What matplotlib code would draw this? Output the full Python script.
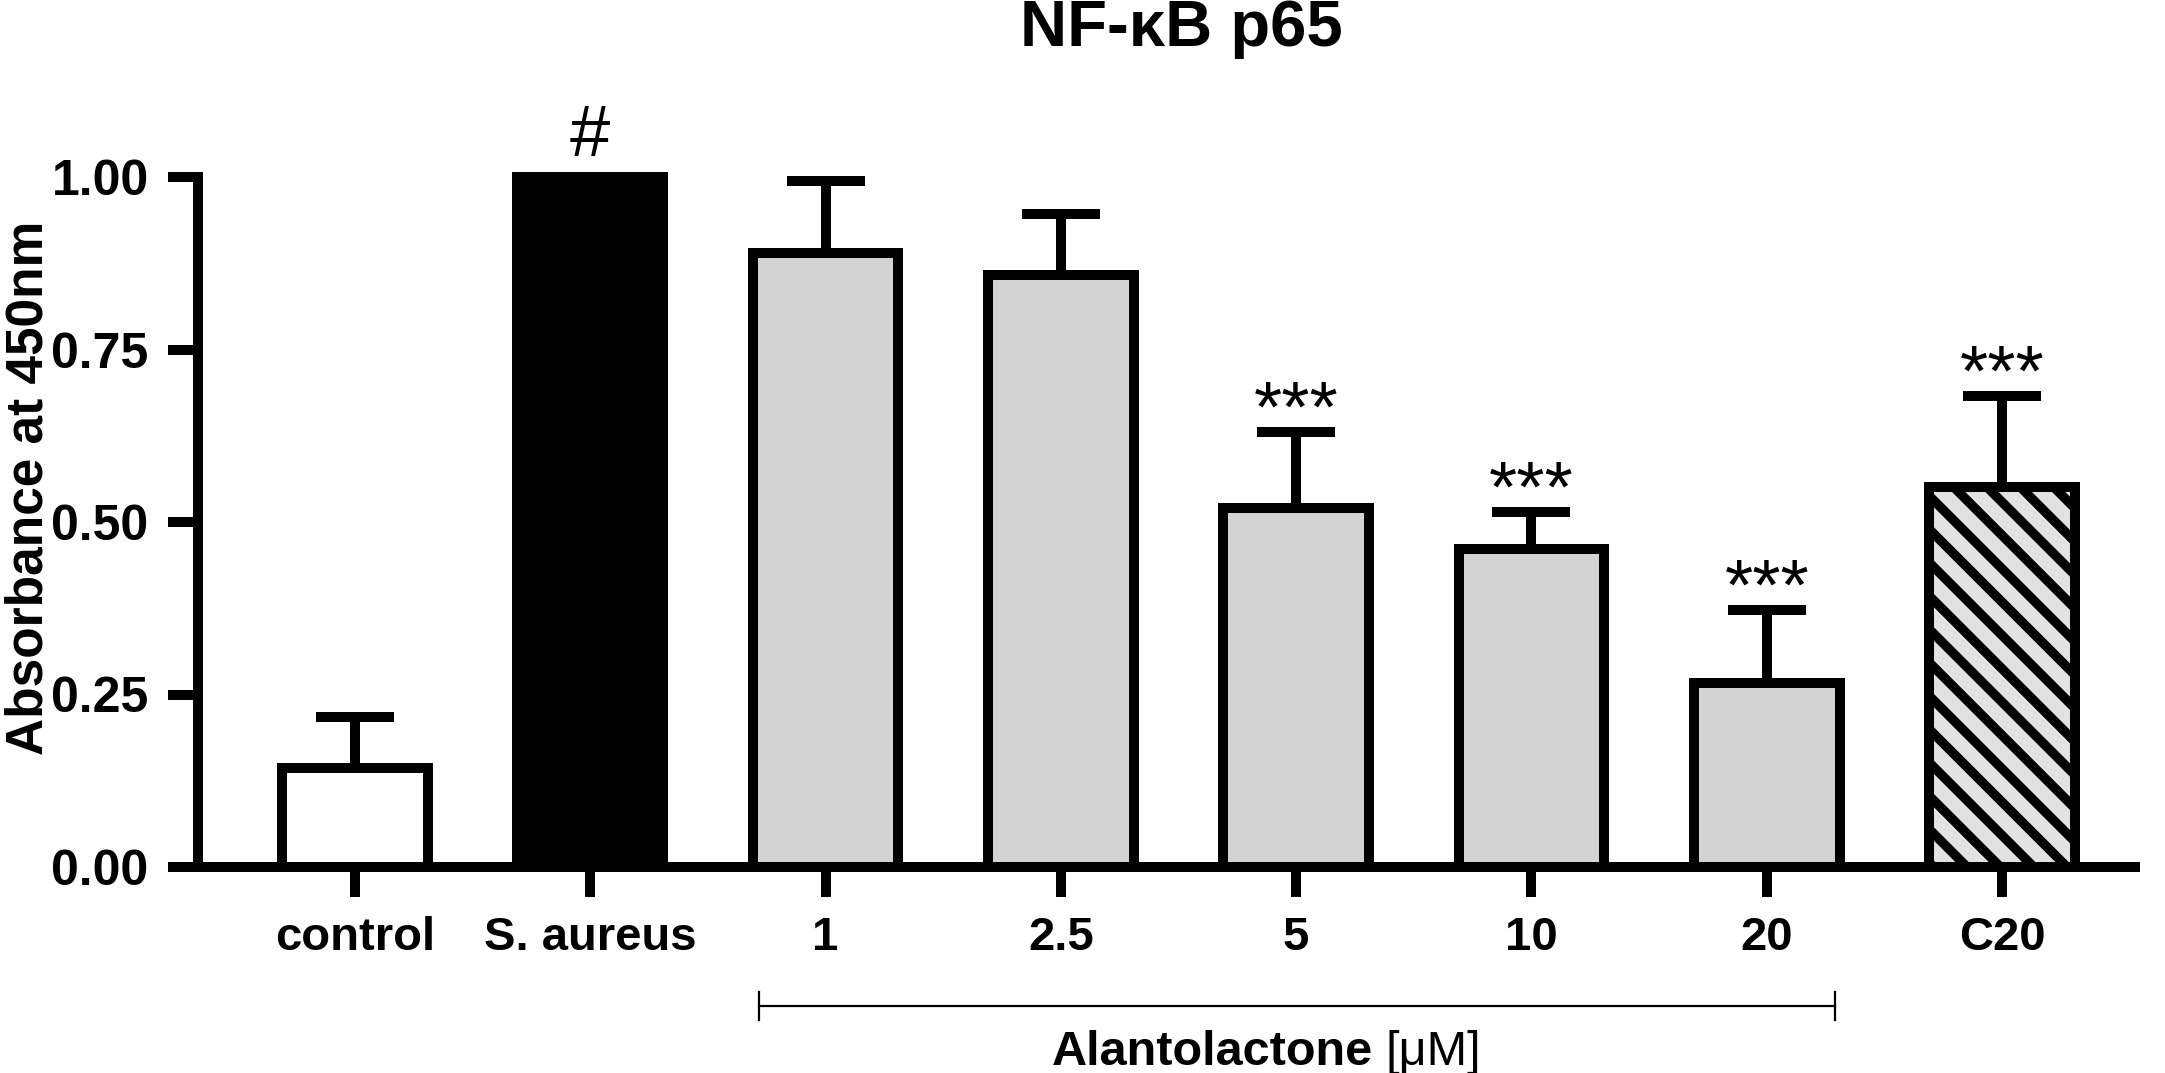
import matplotlib
matplotlib.use('Agg')
import matplotlib.pyplot as plt
import numpy as np

plt.rcParams['font.family'] = ['Liberation Sans', 'DejaVu Sans']
plt.rcParams['hatch.linewidth'] = 3.4

# data
groups = ['control', 'S. aureus', '1', '2.5', '5', '10', '20', 'C20']
means = [0.144, 1.0, 0.890, 0.858, 0.521, 0.461, 0.267, 0.551]
err_top = [0.218, 1.0, 0.994, 0.946, 0.631, 0.515, 0.373, 0.683]
marks = ['', '#', '', '', '***', '***', '***', '***']
fills = ['white', 'black', '#d3d3d3', '#d3d3d3', '#d3d3d3', '#d3d3d3', '#d3d3d3', '#e2e2e2']
hatches = ['', '', '', '', '', '', '', '\\\\']
yticks = [0.0, 0.25, 0.5, 0.75, 1.0]

lw = 3.6
fig = plt.figure(figsize=(10.825, 5.365), dpi=200)
ax = fig.add_axes([198 / 2165, 206 / 1073, 1937 / 2165, 862.5 / 1073])

x = np.arange(len(groups))
errs = np.array(err_top) - np.array(means)

# error bars first so bars sit on top
ax.errorbar(x, means, yerr=[np.zeros(len(x)), errs], fmt='none', ecolor='black',
            elinewidth=lw, capsize=14, capthick=lw, zorder=2)
for i in range(len(x)):
    ax.bar(x[i], means[i], width=0.62, color=fills[i], edgecolor='black',
           linewidth=lw, hatch=hatches[i], zorder=3)

for i, m in enumerate(marks):
    if m == '#':
        ax.text(x[i], err_top[i] + 0.03, m, ha='center', va='baseline', fontsize=26)
    elif m:
        ax.text(x[i], err_top[i] + 0.0, m, ha='center', va='baseline', fontsize=26)

ax.set_xlim(-0.667, 7.565)
ax.set_ylim(0, 1.25)
ax.spines['top'].set_visible(False)
ax.spines['right'].set_visible(False)
ax.spines['left'].set_bounds(0, 1)
ax.spines['left'].set_linewidth(lw)
ax.spines['bottom'].set_linewidth(lw)

ax.set_yticks(yticks)
ax.set_yticklabels(['%.2f' % v for v in yticks], fontsize=18, fontweight='bold')
ax.set_xticks(x)
ax.set_xticklabels(groups, fontsize=17, fontweight='bold')
ax.tick_params(axis='both', length=10.8, width=lw, pad=7)

ax.set_ylabel('Absorbance at 450nm', fontsize=18.5, fontweight='bold')
ax.yaxis.set_label_coords(-0.0745, 0.44)

# bracket under the Alantolactone doses
bx0, bx1, by = 1.717, 6.29, -0.2015
ax.plot([bx0, bx1], [by, by], color='black', lw=0.8, clip_on=False)
ax.plot([bx0, bx0], [by - 0.02, by + 0.02], color='black', lw=0.8, clip_on=False)
ax.plot([bx1, bx1], [by - 0.02, by + 0.02], color='black', lw=0.8, clip_on=False)
ax.text(4.326, -0.287, 'Alantolactone', ha='right', va='baseline',
        fontsize=17.5, fontweight='bold', clip_on=False)
ax.text(4.38, -0.287, '[\u03bcM]', ha='left', va='baseline', fontsize=17.5, clip_on=False)

fig.text(1181 / 2165, 1 - 29 / 1073, 'NF-\u03baB p65', ha='center', va='center',
         fontsize=23.5, fontweight='bold')

fig.savefig('out.png', dpi=200)
